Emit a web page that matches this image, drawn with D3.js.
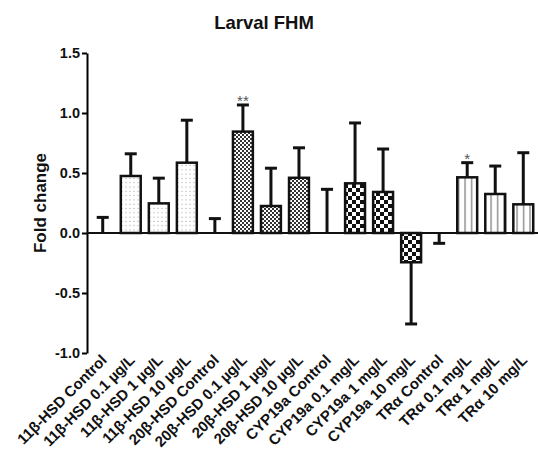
<!DOCTYPE html>
<html>
<head>
<meta charset="utf-8">
<script src="https://cdn.jsdelivr.net/npm/d3@7"></script>
<style>
  body { margin: 0; background: #fff; }
  svg { display: block; font-family: "Liberation Sans", Arial, sans-serif; }
</style>
</head>
<body>
<svg id="chart" width="538" height="453"></svg>
<script>
// groups / labels
const labels = [
  "11\u03B2-HSD Control", "11\u03B2-HSD 0.1  \u00B5g/L", "11\u03B2-HSD 1  \u00B5g/L", "11\u03B2-HSD 10  \u00B5g/L",
  "20\u03B2-HSD Control", "20\u03B2-HSD 0.1  \u00B5g/L", "20\u03B2-HSD 1  \u00B5g/L", "20\u03B2-HSD 10  \u00B5g/L",
  "CYP19a Control", "CYP19a 0.1 mg/L", "CYP19a 1 mg/L", "CYP19a 10 mg/L",
  "TR\u03B1 Control", "TR\u03B1 0.1 mg/L", "TR\u03B1 1 mg/L", "TR\u03B1 10 mg/L"
]
// mean fold change
const means = [0, 0.475, 0.247, 0.586, 0, 0.845, 0.225, 0.46, 0, 0.414, 0.342, -0.244, 0, 0.464, 0.325, 0.239]
// error bar length (signed, drawn away from bar)
const errs = [0.13, 0.185, 0.21, 0.354, 0.12, 0.222, 0.315, 0.25, 0.364, 0.503, 0.358, -0.514, -0.086, 0.122, 0.233, 0.43]
// fill pattern per group
const fills = ["none", "dots", "dots", "dots", "none", "fine", "fine", "fine",
  "none", "coarse", "coarse", "coarse", "none", "vlines", "vlines", "vlines"]
const stars = ["", "", "", "", "", "**", "", "", "", "", "", "", "", "*", "", ""]
const yTicks = [-1.0, -0.5, 0.0, 0.5, 1.0, 1.5]

const svg = d3.select('#chart')

// patterns
const defs = svg.append('defs')
let p = defs.append('pattern').attr('id', 'dots').attr('patternUnits', 'userSpaceOnUse')
  .attr('width', 4).attr('height', 4.3)
p.append('rect').attr('width', 4).attr('height', 4.3).attr('fill', '#fff')
p.append('rect').attr('x', 1.5).attr('y', 1.6).attr('width', 1).attr('height', 1).attr('fill', '#999')

p = defs.append('pattern').attr('id', 'fine').attr('patternUnits', 'userSpaceOnUse')
  .attr('width', 4).attr('height', 4)
p.append('rect').attr('width', 4).attr('height', 4).attr('fill', '#fff')
p.append('rect').attr('width', 2).attr('height', 2).attr('fill', '#333')
p.append('rect').attr('x', 2).attr('y', 2).attr('width', 2).attr('height', 2).attr('fill', '#333')

p = defs.append('pattern').attr('id', 'coarse').attr('patternUnits', 'userSpaceOnUse')
  .attr('width', 8).attr('height', 8)
p.append('rect').attr('width', 8).attr('height', 8).attr('fill', '#fff')
p.append('rect').attr('width', 4).attr('height', 4).attr('fill', '#111')
p.append('rect').attr('x', 4).attr('y', 4).attr('width', 4).attr('height', 4).attr('fill', '#111')

p = defs.append('pattern').attr('id', 'vlines').attr('patternUnits', 'userSpaceOnUse')
  .attr('width', 6.5).attr('height', 10)
p.append('rect').attr('width', 6.5).attr('height', 10).attr('fill', '#fff')
p.append('rect').attr('x', 3).attr('width', 1.2).attr('height', 10).attr('fill', '#777')

// scales
const axisX = 87
const x = d3.scaleBand()
  .domain(labels)
  .range([88.7, 537.3])
  .paddingInner(0.29)
  .paddingOuter(0.145)

const y = d3.scaleLinear()
  .domain([-1, 1.5])
  .range([353, 53])

// title
svg.append('text')
  .attr('x', 264).attr('y', 29)
  .attr('text-anchor', 'middle')
  .style('font-size', '18.5px').style('font-weight', 'bold')
  .attr('fill', '#111')
  .text('Larval FHM')

// y label
svg.append('text')
  .attr('transform', `translate(46, ${y(0.25)}) rotate(-90)`)
  .attr('text-anchor', 'middle')
  .style('font-size', '17px').style('font-weight', 'bold')
  .attr('fill', '#111')
  .text('Fold change')

// y axis
const yAxis = svg.append('g')
  .attr('transform', `translate(${axisX},0)`)
  .call(d3.axisLeft(y).tickValues(yTicks).tickFormat(d3.format('.1f')).tickSize(5).tickSizeOuter(0))
yAxis.select('.domain').attr('stroke-width', 2)
yAxis.selectAll('.tick line').attr('stroke-width', 2)
yAxis.selectAll('.tick text')
  .attr('x', -7)
  .style('font-size', '14.5px').style('font-weight', 'bold')
  .style('font-family', '"Liberation Sans", Arial, sans-serif')
  .attr('fill', '#111')
  .text(d => d < 0 ? '-' + d3.format('.1f')(-d) : d3.format('.1f')(d))

// bars
const bw = x.bandwidth()
svg.selectAll('.bar')
  .data(labels.map((l, i) => ({ l, m: means[i], f: fills[i] })).filter(d => d.f !== 'none'))
  .join('rect')
  .attr('class', 'bar')
  .attr('x', d => x(d.l))
  .attr('width', bw)
  .attr('y', d => Math.min(y(d.m), y(0)))
  .attr('height', d => Math.abs(y(d.m) - y(0)))
  .attr('fill', d => `url(#${d.f})`)
  .attr('stroke', '#111')
  .attr('stroke-width', 2.5)

// error bars
const eb = svg.selectAll('.err')
  .data(labels.map((l, i) => ({ l, m: means[i], e: errs[i], s: stars[i] })))
  .join('g')
  .attr('class', 'err')
  .attr('transform', d => `translate(${x(d.l) + bw / 2},0)`)
eb.append('line')
  .attr('y1', d => y(d.m)).attr('y2', d => y(d.m + d.e))
  .attr('stroke', '#111').attr('stroke-width', 3)
eb.append('line')
  .attr('x1', -6).attr('x2', 6)
  .attr('y1', d => y(d.m + d.e)).attr('y2', d => y(d.m + d.e))
  .attr('stroke', '#111').attr('stroke-width', 3)
eb.filter(d => d.s !== '').append('text')
  .attr('y', d => y(d.m + d.e) + 1)
  .attr('text-anchor', 'middle')
  .style('font-size', '15px')
  .attr('fill', '#555')
  .text(d => d.s)

// zero line
svg.append('line')
  .attr('x1', axisX).attr('x2', 538)
  .attr('y1', y(0)).attr('y2', y(0))
  .attr('stroke', '#111').attr('stroke-width', 2)

// x labels
svg.selectAll('.xlab')
  .data(labels)
  .join('text')
  .attr('class', 'xlab')
  .attr('transform', d => `translate(${x(d) + bw / 2 + 5}, 361) rotate(-45)`)
  .attr('text-anchor', 'end')
  .style('font-size', '15px').style('font-weight', 'bold')
  .attr('fill', '#111')
  .text(d => d)
</script>
</body>
</html>
